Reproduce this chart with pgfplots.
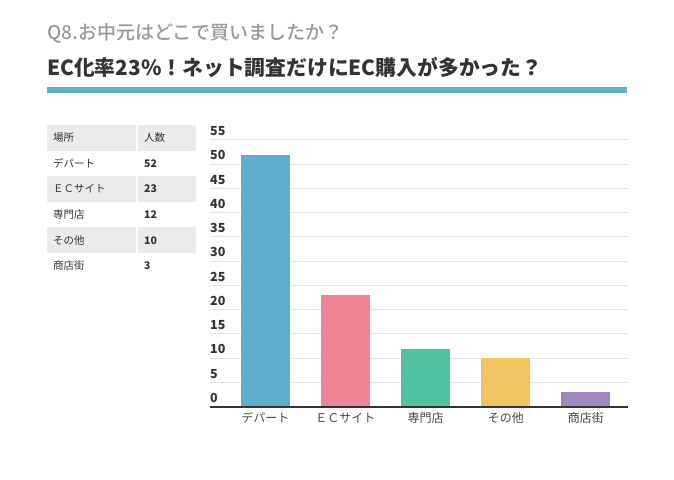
\documentclass[border=0pt]{standalone}
\usepackage{fontspec}
\setmainfont{Noto Sans CJK JP}
\newfontfamily\medfont{Noto Sans CJK JP Medium}
\usepackage{pgfplots}
\pgfplotsset{compat=1.18}
\definecolor{cA}{HTML}{5FADCD}
\definecolor{cB}{HTML}{F08395}
\definecolor{cC}{HTML}{52C3A0}
\definecolor{cD}{HTML}{F0C45E}
\definecolor{cE}{HTML}{A088BF}
\definecolor{rule}{HTML}{5FB0CF}
\definecolor{tgray}{HTML}{999999}
\definecolor{dark}{HTML}{333333}
\definecolor{rowg}{HTML}{EBEBEB}
\definecolor{gridc}{HTML}{E2E2E2}
\begin{document}
\begin{tikzpicture}[x=1pt,y=1pt]
\path[use as bounding box] (0,0) rectangle (674,479);
% titles
\node[anchor=west, inner sep=0pt, text=tgray, font=\fontsize{19}{19}\medfont] at (47,446) {Q8.お中元はどこで買いましたか？};
\node[anchor=west, inner sep=0pt, text=dark, font=\fontsize{20.8}{22}\selectfont\bfseries] at (47,412) {EC化率23\%！ネット調査だけにEC購入が多かった？};
\fill[rule] (47,479-93.3) rectangle (627,479-86.7);
% table
\foreach \r in {0,2,4} {
  \fill[rowg] (47,{479-125-25.6*\r}) rectangle (136,{479-125-25.6*(\r+1)});
  \fill[rowg] (138,{479-125-25.6*\r}) rectangle (196,{479-125-25.6*(\r+1)});
}
\foreach \a/\b [count=\i from 0] in {場所/人数,デパート/\textbf{52},ＥＣサイト/\textbf{23},専門店/\textbf{12},その他/\textbf{10},商店街/\textbf{3}} {
  \node[anchor=west, inner sep=0pt, text=dark, font=\fontsize{10.5}{11}\selectfont] at (53,{479-137.8-25.6*\i}) {\a};
  \node[anchor=west, inner sep=0pt, text=dark, font=\fontsize{10.5}{11}\selectfont] at (144,{479-137.8-25.6*\i}) {\b};
}
\begin{axis}[
  at={(210pt,72.3pt)}, anchor=south west,
  scale only axis, width=418pt, height=266.7pt,
  xmin=-0.69, xmax=4.525, ymin=0, ymax=55,
  axis line style={draw=none},
  ytick={0,5,...,55},
  xtick={0,1,2,3,4},
  xticklabels={デパート,ＥＣサイト,専門店,その他,商店街},
  major tick length=0pt,
  ymajorgrids, grid style={gridc, line width=1pt},
  yticklabel style={anchor=south west, inner sep=0pt, yshift=4pt, font=\fontsize{12.5}{12}\selectfont\bfseries, text=dark},
  /pgf/number format/assume math mode=true,
  xticklabel style={anchor=center, yshift=-11pt, inner sep=0pt, font=\fontsize{12}{12}\selectfont, text=dark!90},
  clip=false,
]
\addplot[ybar, bar width=49pt, fill=cA, draw=none] coordinates {(0,52)};
\addplot[ybar, bar width=49pt, fill=cB, draw=none] coordinates {(1,23)};
\addplot[ybar, bar width=49pt, fill=cC, draw=none] coordinates {(2,12)};
\addplot[ybar, bar width=49pt, fill=cD, draw=none] coordinates {(3,10)};
\addplot[ybar, bar width=49pt, fill=cE, draw=none] coordinates {(4,3)};
\draw[line width=2pt, color=dark] (rel axis cs:0,0) -- (rel axis cs:1,0);
\end{axis}
\end{tikzpicture}
\end{document}
